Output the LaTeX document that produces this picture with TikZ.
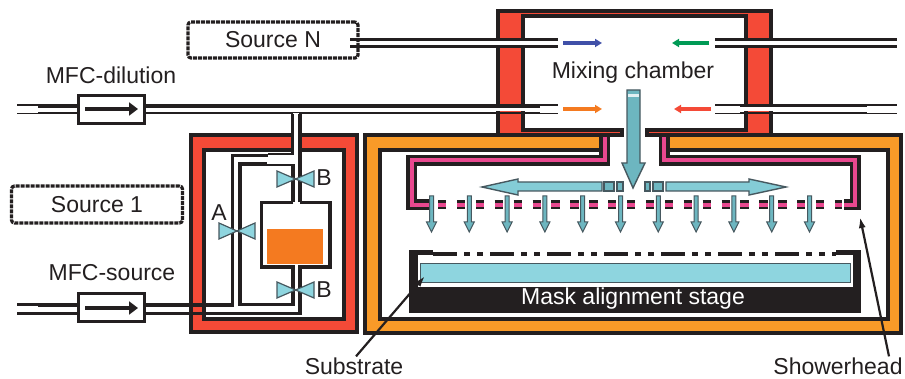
\documentclass[tikz,border=0pt]{standalone}
\usepackage{fontspec}
\setmainfont{Liberation Sans}
\usetikzlibrary{arrows.meta}
\definecolor{wallred}{HTML}{F44A37}
\definecolor{shellorange}{HTML}{F89A28}
\definecolor{boxorange}{HTML}{F47A20}
\definecolor{headpink}{HTML}{E9488F}
\definecolor{valveblue}{HTML}{8ED5DF}
\definecolor{flowteal}{HTML}{6DB6C0}
\definecolor{flowedge}{HTML}{46585F}
\definecolor{inkblack}{HTML}{231F20}
\tikzset{
  wall/.style={draw=inkblack, line width=4pt, miter limit=10},
  pipe/.style={inkblack, line width=3.6pt},
  pipethin/.style={inkblack, line width=1.8pt},
  mfcbox/.style={draw=inkblack, line width=3.6pt, fill=white, minimum width=66pt, minimum height=28pt, inner sep=0pt},
  sourcebox/.style={draw=inkblack, line width=3.2pt, dash pattern=on 4pt off 1pt, rounded corners=3pt, inner sep=0pt},
  flow/.style={fill=flowteal, draw=flowedge, line width=1.4pt},
  valve/.style={fill=valveblue, draw=flowedge, line width=1.2pt},
  label/.style={font=\fontsize{23}{26}\selectfont, text=inkblack, inner sep=0pt},
  leader/.style={-{Latex[length=11pt,width=7pt]}, inkblack, line width=2.2pt},
  mfcflow/.style={-{Triangle[length=9pt,width=13pt]}, inkblack, line width=4.5pt},
  gasflow/.style={-{Triangle[length=7pt,width=8pt]}, line width=4pt}
}
\begin{document}
\begin{tikzpicture}[x=1pt,y=-1pt]
    \useasboundingbox (0,0) rectangle (905,379);
    % The heated jackets and the chamber walls.
    \draw[wall, fill=wallred, even odd rule] (190.5,135) rectangle (356.5,332.5) (204,150) rectangle (343.5,319.5);
    \draw[wall, fill=shellorange] (601,135) -- (365,135) -- (365,333) -- (901,333) -- (901,135) -- (667,135) -- (667,150) -- (887.5,150) -- (887.5,319.5) -- (380,319.5) -- (380,150) -- (601,150) -- cycle;
    \draw[wall, fill=wallred] (622,135) -- (498,135) -- (498,11) -- (771,11) -- (771,135) -- (647,135) -- (647,130) -- (746,130) -- (746,16) -- (523,16) -- (523,130) -- (622,130) -- cycle;
    % Showerhead, drawn twice to get the pink core.
    \draw[inkblack, line width=11pt] (604.5,137) -- (604.5,160.5) -- (411.5,160.5) -- (411.5,205) -- (434,205);
    \draw[inkblack, line width=11pt] (664,137) -- (664,160.5) -- (855,160.5) -- (855,205) -- (844,205);
    \draw[headpink, line width=4pt] (604.5,137) -- (604.5,160.5) -- (411.5,160.5) -- (411.5,205) -- (434,205);
    \draw[headpink, line width=4pt] (664,137) -- (664,160.5) -- (855,160.5) -- (855,205) -- (844,205);
    \draw[inkblack, line width=9pt, dash pattern=on 8.3pt off 10.6pt] (438,205) -- (842,205);
    \draw[headpink, line width=3.5pt, dash pattern=on 8.3pt off 10.6pt] (438,205) -- (842,205);
    % Mask and stage.
    \fill[inkblack] (409,250) rectangle (861,313);
    \fill[white] (418,255) rectangle (853,287);
    \fill[white] (433,249) rectangle (836,255);
    \draw[inkblack, line width=4.5pt, dash pattern=on 24pt off 7pt on 6pt off 7pt on 6pt off 7pt] (433,254) -- (836,254);
    \draw[fill=valveblue, draw=flowedge, line width=1pt] (420,264) rectangle (850,283);
    % Source lines, the wide white gap sits over the walls.
    \fill[white] (350,41) rectangle (558,45);
    \fill[white] (17,108) rectangle (558,111.5);
    \fill[white] (715,41) rectangle (897,45);
    \fill[white] (715,107) rectangle (897,111.5);
    \draw[pipe] (377,39.5) -- (523,39.5) (377,46.5) -- (523,46.5);
    \draw[pipethin, line width=3pt] (523,39.5) -- (558,39.5) (523,46.5) -- (558,46.5);
    \draw[pipe] (740,39.5) -- (867,39.5) (740,46.5) -- (867,46.5);
    \draw[pipethin, line width=3pt] (715,39.5) -- (740,39.5) (715,46.5) -- (740,46.5) (867,39.5) -- (897,39.5) (867,46.5) -- (897,46.5);
    \draw[pipe] (38,106) -- (540,106);
    \draw[pipethin, line width=2.4pt] (38,113) -- (540,113);
    \draw[pipethin] (17,105) -- (38,105) (17,113.5) -- (38,113.5) (540,105) -- (558,105) (540,113.5) -- (558,113.5);
    \draw[pipe] (740,105.5) -- (867,105.5);
    \draw[pipethin, line width=2.4pt] (740,113) -- (867,113);
    \draw[pipethin] (715,105) -- (740,105) (715,113.5) -- (740,113.5) (867,105) -- (897,105) (867,113.5) -- (897,113.5);
    % The bypass and the canister.
    \fill[white] (293,113) rectangle (299,157);
    \draw[pipe] (292.5,114) -- (292.5,154) (268,155.5) -- (232.5,155.5) -- (232.5,305) -- (38,305);
    \draw[pipethin] (268,154) -- (294,154);
    \draw[pipe] (300,114) -- (300,202);
    \draw[pipe] (267,164) -- (240,164) -- (240,304.5) -- (293,304.5) -- (293,268);
    \draw[pipethin] (267,165) -- (294.5,165);
    \draw[pipe] (293,165) -- (293,202);
    \draw[pipe] (293,202.5) -- (261.5,202.5) -- (261.5,267) -- (330,267) -- (330,202.5) -- (300,202.5);
    \draw[pipe] (300,267) -- (300,313.5) -- (38,313.5);
    \draw[white, line width=4pt] (295,267) -- (298,267);
    \draw[pipe, line width=3pt] (17,305) -- (38,305) (17,313.5) -- (38,313.5);
    \fill[boxorange] (267,229) rectangle (323,264);
    % Valves.
    \foreach \y in {179,290}{
        \draw[valve] (277,\y-8) -- (314,\y+8) -- (314,\y-8) -- (277,\y+8) -- cycle;
    }
    \draw[valve] (219,223) -- (255,239) -- (255,223) -- (219,239) -- cycle;
    % Gas arrows at the inlets.
    \draw[gasflow, color={rgb,255:red,64;green,80;blue,168}] (563,43) -- (602,43);
    \draw[gasflow, boxorange] (563,109) -- (602,109);
    \draw[gasflow, color={rgb,255:red,0;green,154;blue,85}] (709,43) -- (672,43);
    \draw[gasflow, wallred] (711,109) -- (674,109);
    % Big teal arrows.
    \draw[flow] (627,90) -- (627,163) -- (622,163) -- (633,188) -- (645,163) -- (640,163) -- (640,90) -- cycle;
    \fill[white!80!flowteal] (628,94) rectangle (639,97);
    \draw[flow, fill=valveblue!70!flowteal] (602,182) -- (518,182) -- (518,179) -- (482,187) -- (518,195) -- (518,191) -- (602,191) -- cycle;
    \draw[flow, fill=valveblue!70!flowteal] (666,182) -- (749,182) -- (749,179) -- (786,187) -- (749,195) -- (749,191) -- (666,191) -- cycle;
    \draw[flow] (604,182) rectangle (614,191) (617,182) rectangle (623,191) (645,182) rectangle (650,191) (653,182) rectangle (663,191);
    % Small arrows under the showerhead.
    \foreach \i in {0,...,10}{
        \draw[flow, line width=1pt] (431.5+37.8*\i-2,196) -- (431.5+37.8*\i-2,222) -- (431.5+37.8*\i-5,222) -- (431.5+37.8*\i,232) -- (431.5+37.8*\i+5,222) -- (431.5+37.8*\i+2,222) -- (431.5+37.8*\i+2,196) -- cycle;
    }
    % Below nodes are the labels.
    \node[mfcbox] (mfcdilution) at (111.5,109.5) {};
    \node[mfcbox] (mfcsource) at (111.5,307.5) {};
    \draw[mfcflow] (85,109) -- (138,109);
    \draw[mfcflow] (85,308) -- (138,308);
    \node[sourcebox, fill=white, minimum width=170pt, minimum height=36pt] (sourcen) at (273,40) {};
    \draw[pipe, line width=3pt] (350,39.5) -- (377,39.5) (350,46.5) -- (377,46.5);
    \node[sourcebox, minimum width=171pt, minimum height=37pt] (sourceone) at (97,204.5) {};
    \node[label] at (sourcen) {Source N};
    \node[label] at (sourceone) {Source 1};
    \node[label] (dilutionlabel) at (111,75) {MFC-dilution};
    \node[label] (sourcelabel) at (112,273) {MFC-source};
    \node[label] (mixinglabel) at (633,73) {Mixing chamber};
    \node[label] (valvea) at (219,213) {A};
    \node[label] (valvebtop) at (324,178) {B};
    \node[label] (valvebbottom) at (324,290) {B};
    \node[label, text=white] (stagelabel) at (633,299) {Mask alignment stage};
    \node[label] (substratelabel) at (354,366) {Substrate};
    \node[label] (showerheadlabel) at (838,366) {Showerhead};
    % This draws the two leaders.
    \coordinate (substratetip) at (425,276);
    \coordinate (showerheadtip) at (860,217);
    \draw[leader] (substratelabel.north) ++(2,-1) -- (substratetip);
    \draw[leader] (showerheadlabel.north) ++(51,-1) -- (showerheadtip);
\end{tikzpicture}
\end{document}
